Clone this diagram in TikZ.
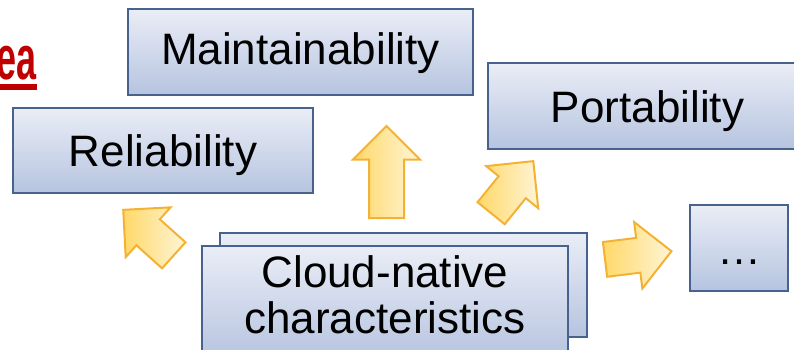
\documentclass[tikz,border=0pt]{standalone}
\usepackage{fontspec}
\setmainfont{Liberation Sans}
\usepackage{tikz}
\usetikzlibrary{shapes.arrows}
\definecolor{boxtop}{RGB}{234,237,246}
\definecolor{boxbottom}{RGB}{182,196,224}
\definecolor{boxline}{RGB}{72,98,142}
\definecolor{arrowtip}{RGB}{255,245,214}
\definecolor{arrowtail}{RGB}{255,216,104}
\definecolor{arrowline}{RGB}{244,178,52}
\definecolor{titlered}{RGB}{192,0,0}

\begin{document}
\begin{tikzpicture}[x=1pt,y=-1pt]
  \tikzstyle{box}=[rectangle,draw=boxline,line width=2.5pt,top color=boxtop,bottom color=boxbottom,inner sep=0pt,font=\fontsize{44}{46}\selectfont,text height=32pt,text depth=6pt]
  \tikzstyle{fat arrow}=[single arrow,draw=arrowline,line width=2pt,left color=arrowtail,right color=arrowtip,inner xsep=0pt,inner ysep=16.5pt,single arrow head extend=16pt,anchor=tail]
  \path [use as bounding box,clip] (0,0) rectangle (794,350);
  \node [font=\fontsize{62}{62}\selectfont\bfseries,text=titlered,xscale=0.58,inner sep=0pt,anchor=base east] (title) at (37,80) {ea};
  \draw [titlered,line width=6pt] ([yshift=-7pt]title.base west) -- ([yshift=-7pt]title.base east);
  \node [box,minimum width=345pt,minimum height=86pt] (maint) at (300.5,52) {Maintainability};
  \node [box,minimum width=319pt,minimum height=86pt,text depth=-10pt] (port) at (647.5,106) {Portability};
  \node [box,minimum width=300pt,minimum height=85pt,text depth=-3.5pt] (rel) at (163,150.5) {Reliability};
  \node [box,minimum width=98pt,minimum height=86pt,text depth=-4pt] (more) at (739,248) {…};
  \node [box,minimum width=367pt,minimum height=104pt] (back) at (403.5,285) {};
  \node [box,minimum width=366pt,minimum height=114pt] (cloud) at (385,303) {};
  \node [font=\fontsize{44}{46}\selectfont,align=center,inner sep=0pt,anchor=north] (cloudtext) at (385,255.5) {Cloud-native\\characteristics};
  \node [fat arrow,minimum height=92pt,rotate=90] (up) at (386.5,219) {};
  \node [fat arrow,minimum height=67pt,rotate=51] (upright) at (490.5,214) {};
  \node [fat arrow,minimum height=68pt,rotate=138] (upleft) at (174.5,256) {};
  \node [fat arrow,minimum height=67pt,rotate=7] (right) at (604,259.5) {};
\end{tikzpicture}
\end{document}
